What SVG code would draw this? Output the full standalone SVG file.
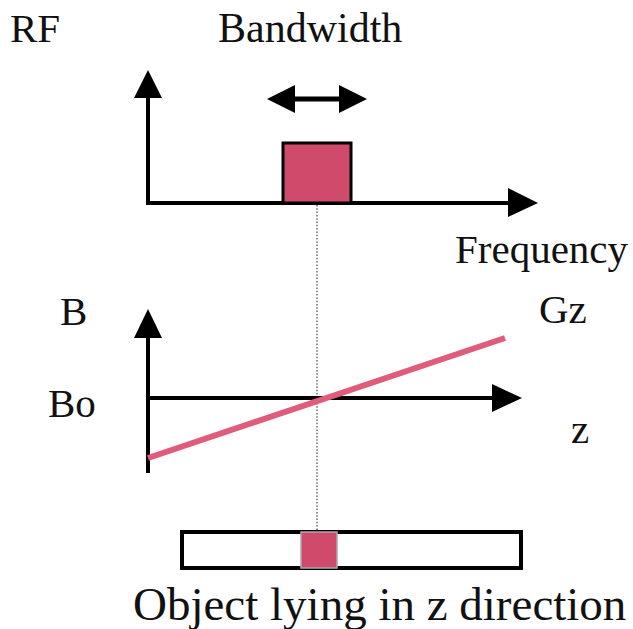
<svg xmlns="http://www.w3.org/2000/svg" width="633" height="629" viewBox="0 0 633 629">
<style>
.lbl{font-family:"Liberation Serif","Times New Roman",serif;font-size:41px;fill:#111}
.big{font-size:47px}
.ax{stroke:#000;stroke-width:4;fill:none}
.hd{fill:#000}
.pk{fill:#d04a6c;stroke:#000;stroke-width:3}
.dot{stroke:#555;stroke-width:1.3;stroke-dasharray:1.5 1.8;fill:none}
</style>
<rect width="633" height="629" fill="#fff"/>
<g id="labels">
<text class="lbl" x="10" y="42">RF</text>
<text class="lbl" x="218" y="42" style="font-size:42px">Bandwidth</text>
<text class="lbl" x="455" y="263">Frequency</text>
<text class="lbl" x="60" y="325">B</text>
<text class="lbl" x="539" y="323">Gz</text>
<text class="lbl" x="48" y="417">Bo</text>
<text class="lbl" x="571" y="443">z</text>
<text class="lbl big" x="133" y="620">Object lying in z direction</text>
</g>
<g id="connectors">
<line class="dot" x1="317" y1="205" x2="317" y2="531"/>
<polyline class="ax" points="148,96 148,203 510,203"/>
<polygon class="hd" points="148,70 134,98 162,98"/>
<polygon class="hd" points="538,203 508,188 508,217"/>
<line x1="293" y1="99" x2="341" y2="99" stroke="#000" stroke-width="5"/>
<polygon class="hd" points="267,99 295,85 295,113"/>
<polygon class="hd" points="367,99 339,85 339,113"/>
<line class="ax" x1="148" y1="336" x2="148" y2="473"/>
<line class="ax" x1="148" y1="398" x2="494" y2="398"/>
<polygon class="hd" points="148,309 134,338 162,338"/>
<polygon class="hd" points="522,398 492,384 492,412"/>
<line x1="148" y1="458" x2="505" y2="338" stroke="#e05c7c" stroke-width="6"/>
</g>
<g id="rf-pulse">
<rect class="pk" x="283" y="143" width="68" height="60"/>
</g>
<g id="object">
<rect x="182" y="532" width="339" height="36" fill="#fff" stroke="#000" stroke-width="4"/>
<rect x="301" y="532" width="36" height="36" fill="#d04a6c" stroke="#aaa" stroke-width="1.5"/>
</g>
</svg>
